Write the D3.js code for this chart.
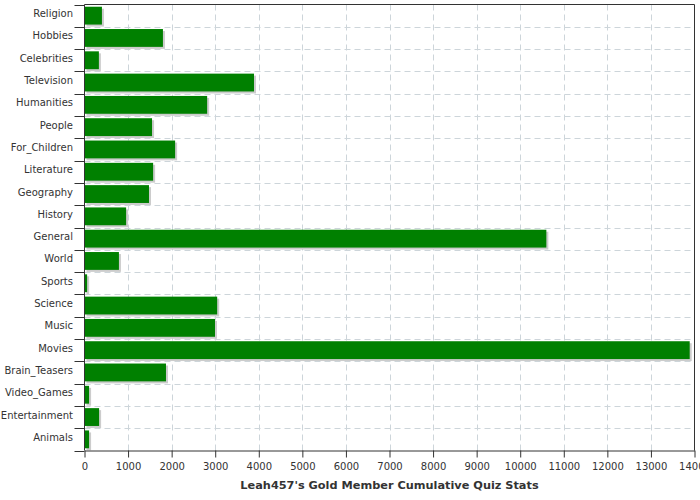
<!DOCTYPE html>
<html><head><meta charset="utf-8">
<script src="https://cdn.jsdelivr.net/npm/d3@7"></script>
<style>body{margin:0;background:#fff}</style>
</head><body>
<svg id="c" width="700" height="500"></svg>
<script>
const categories = ["Religion","Hobbies","Celebrities","Television","Humanities","People","For_Children","Literature","Geography","History","General","World","Sports","Science","Music","Movies","Brain_Teasers","Video_Games","Entertainment","Animals"];
const values = [400,1800,330,3890,2815,1550,2080,1575,1480,955,10600,790,60,3045,2995,13890,1870,105,335,105];
const xTicks = [0,1000,2000,3000,4000,5000,6000,7000,8000,9000,10000,11000,12000,13000,14000];
const title = "Leah457's Gold Member Cumulative Quiz Stats";

const svg = d3.select("#c");
const L = 84.5, R = 694.5, T = 4.5, B = 450.5;
const x = d3.scaleLinear().domain([0,14000]).range([L,R]);
const y = d3.scaleBand().domain(categories).range([T,B]).paddingInner(0.2).paddingOuter(0.1);
const step = (B-T)/categories.length;
const font = "DejaVu Sans, sans-serif";
const gridColor = "#cdd5da";

// grid
const g = svg.append("g");
g.selectAll("line.v").data(xTicks.slice(1,-1)).join("line")
  .attr("x1", d=>Math.round(x(d))+0.5).attr("x2", d=>Math.round(x(d))+0.5)
  .attr("y1", T).attr("y2", B)
  .attr("stroke", gridColor).attr("stroke-dasharray","6,4");
g.selectAll("line.h").data(d3.range(1,categories.length)).join("line")
  .attr("x1", L).attr("x2", R)
  .attr("y1", i=>Math.round(T+i*step)+0.5).attr("y2", i=>Math.round(T+i*step)+0.5)
  .attr("stroke", gridColor).attr("stroke-dasharray","6,4");

// shadows
svg.append("g").selectAll("rect").data(values).join("rect")
  .attr("x", x(0)+2).attr("y",(d,i)=>y(categories[i])+2)
  .attr("width", d=>x(d)-x(0)).attr("height", y.bandwidth())
  .attr("fill","#cccccc");
// bars
svg.append("g").selectAll("rect").data(values).join("rect")
  .attr("x", x(0)).attr("y",(d,i)=>y(categories[i]))
  .attr("width", d=>x(d)-x(0)).attr("height", y.bandwidth())
  .attr("fill","#008000");

// frame
svg.append("line").attr("x1",L).attr("x2",R).attr("y1",T).attr("y2",T).attr("stroke","#333");
svg.append("line").attr("x1",R).attr("x2",R).attr("y1",T).attr("y2",B).attr("stroke","#333");

// bottom axis
const xa = svg.append("g").attr("transform",`translate(0,${B})`)
  .call(d3.axisBottom(x).tickValues(xTicks).tickFormat(d3.format("d")).tickSize(7).tickSizeOuter(0));
xa.select(".domain").attr("stroke","#333");
xa.selectAll(".tick line").attr("stroke","#333");
xa.selectAll("text").attr("font-family",font).attr("font-size",10).attr("fill","#333").attr("dy","0.9em");

// left axis
const la = svg.append("g");
la.append("line").attr("x1",L).attr("x2",L).attr("y1",T).attr("y2",B).attr("stroke","#333");
la.selectAll("line.t").data(d3.range(0,categories.length+1)).join("line")
  .attr("x1", L-10).attr("x2", L)
  .attr("y1", i=>Math.round(T+i*step)+0.5).attr("y2", i=>Math.round(T+i*step)+0.5)
  .attr("stroke","#333");
la.selectAll("text").data(categories).join("text")
  .attr("x", 73).attr("y", d=>y(d)+y.bandwidth()/2).attr("dy","0.15em")
  .attr("text-anchor","end").attr("font-family",font).attr("font-size",10).attr("fill","#333")
  .text(d=>d);

svg.append("text").attr("x",(L+R)/2).attr("y",488.5).attr("text-anchor","middle")
  .attr("font-family",font).attr("font-size",11.3).attr("font-weight","bold").attr("fill","#333")
  .text(title);
</script>
</body></html>
